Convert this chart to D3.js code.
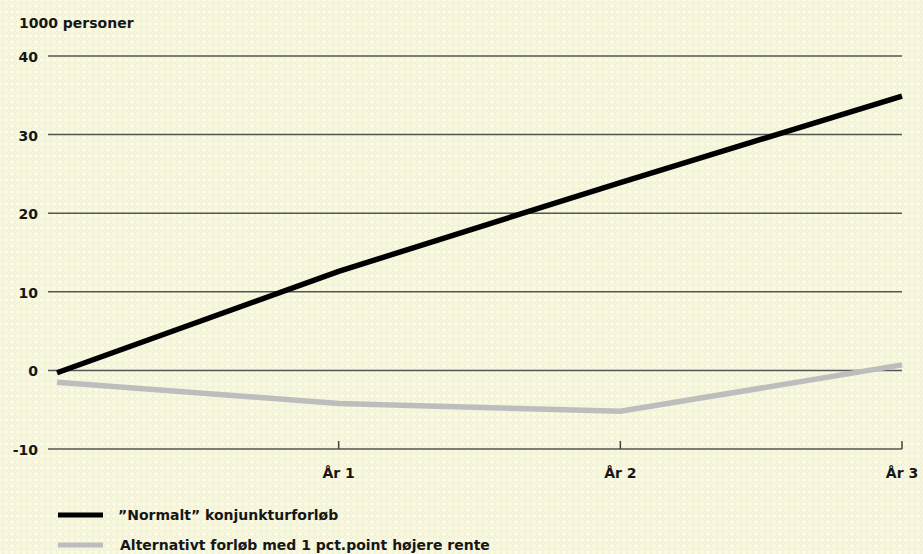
<!DOCTYPE html>
<html>
<head>
<meta charset="utf-8">
<script src="https://cdn.jsdelivr.net/npm/d3@7"></script>
<style>
  body { margin: 0; }
  svg { display: block; }
  text { font-family: "DejaVu Sans", sans-serif; font-weight: bold; fill: #161616; }
</style>
</head>
<body>
<div class="container"></div>
<script>
const periods = ["", "År 1", "År 2", "År 3"];
const normalt = [-0.3, 12.6, 23.9, 34.9];
const alternativ = [-1.5, -4.2, -5.2, 0.7];
const yTicks = [-10, 0, 10, 20, 30, 40];
const seriesNames = ["\u201DNormalt\u201D konjunkturforløb", "Alternativt forløb med 1 pct.point højere rente"];
const seriesColors = ["#000000", "#bdbdbd"];

const W = 923, H = 554;
const svg = d3.select(".container").append("svg").attr("width", W).attr("height", H);

// Background pattern
const defs = svg.append("defs");
const pat = defs.append("pattern")
  .attr("id", "bg")
  .attr("width", 6).attr("height", 6)
  .attr("patternUnits", "userSpaceOnUse");
pat.append("rect").attr("width", 6).attr("height", 6).attr("fill", "#fcfadc");
pat.append("path").attr("d", "M3,0 L6,3 L3,6 L0,3 Z").attr("fill", "#eef0dc");
pat.append("rect").attr("x", 2).attr("y", 2).attr("width", 2).attr("height", 2).attr("fill", "#f8f6df");
svg.append("rect").attr("width", W).attr("height", H).attr("fill", "url(#bg)");

// Scales
const x = d3.scalePoint().domain(d3.range(periods.length)).range([57, 902]);
const y = d3.scaleLinear().domain([-10, 40]).range([449, 56]);

// Gridlines
svg.append("g")
  .selectAll("line")
  .data(yTicks)
  .join("line")
  .attr("x1", 48).attr("x2", 902)
  .attr("y1", d => y(d)).attr("y2", d => y(d))
  .attr("stroke", "#555").attr("stroke-width", 1.5);

// Y labels
svg.append("g")
  .selectAll("text")
  .data(yTicks)
  .join("text")
  .attr("x", 38)
  .attr("y", d => y(d) + 6)
  .attr("text-anchor", "end")
  .attr("font-size", 14)
  .text(d => d);

svg.append("text")
  .attr("x", 19).attr("y", 28)
  .attr("font-size", 14)
  .text("1000 personer");

// X ticks
const xi = d3.range(1, periods.length);
svg.append("g")
  .selectAll("line")
  .data(xi)
  .join("line")
  .attr("x1", d => x(d)).attr("x2", d => x(d))
  .attr("y1", y(-10)).attr("y2", y(-10) - 8)
  .attr("stroke", "#444").attr("stroke-width", 1.5);

svg.append("g")
  .selectAll("text")
  .data(xi)
  .join("text")
  .attr("x", d => x(d))
  .attr("y", 478)
  .attr("text-anchor", "middle")
  .attr("font-size", 14)
  .text(d => periods[d]);

// Lines
const line = d3.line().x((d, i) => x(i)).y(d => y(d));
[normalt, alternativ].forEach((s, k) => {
  svg.append("path")
    .datum(s)
    .attr("d", line)
    .attr("fill", "none")
    .attr("stroke", seriesColors[k])
    .attr("stroke-width", 5.5);
});

// Legend
const lg = svg.append("g");
seriesNames.forEach((name, k) => {
  const ly = 515 + k * 30;
  lg.append("line")
    .attr("x1", 58).attr("x2", 103)
    .attr("y1", ly).attr("y2", ly)
    .attr("stroke", seriesColors[k]).attr("stroke-width", 5);
  lg.append("text")
    .attr("x", k === 0 ? 118 : 120)
    .attr("y", ly + 5)
    .attr("font-size", 14)
    .text(name);
});
</script>
</body>
</html>
